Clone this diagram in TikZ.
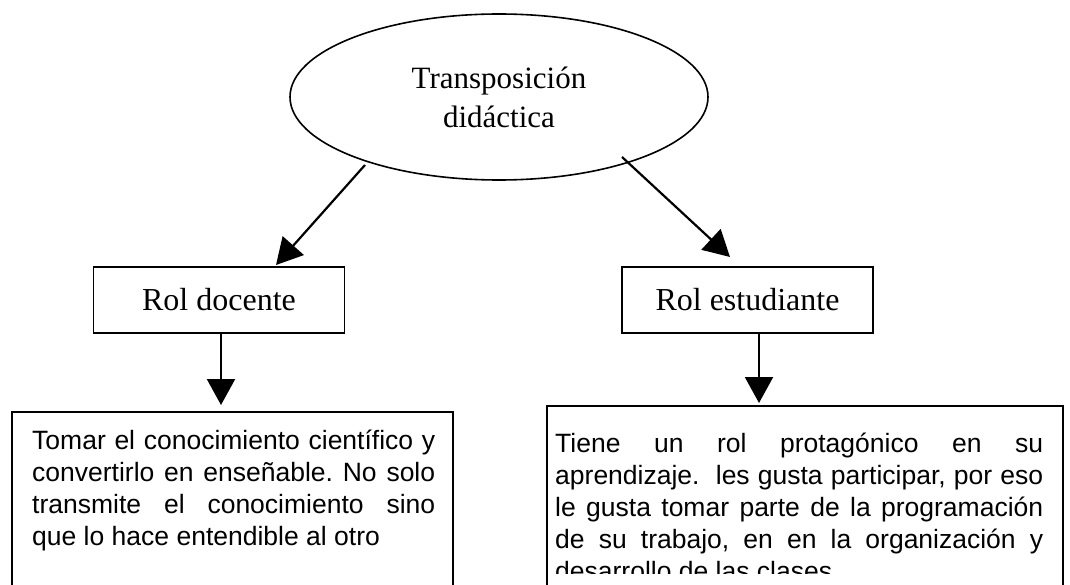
\documentclass[tikz,border=0pt]{standalone}
\usepackage{fontspec}
\setmainfont{Liberation Serif}
\newfontfamily\arial{Liberation Sans}
\usetikzlibrary{shapes.geometric, positioning, arrows.meta, calc}
\tolerance=10000
\hbadness=10000
\frenchspacing
\tikzset{tema/.style={draw,ellipse,line width=1.6pt,minimum width=418pt,minimum height=166pt,inner sep=0pt,outer sep=0pt,align=center,font=\fontsize{31}{39}\selectfont},
         rol/.style={draw,line width=1.6pt,minimum width=251pt,minimum height=66pt,inner sep=0pt,outer sep=0pt,font=\fontsize{32}{38}\selectfont},
         marco/.style={draw,line width=1.6pt,anchor=north west,inner sep=0pt,outer sep=0pt},
         texto/.style={anchor=north west,inner sep=0pt,align=justify,font=\arial\fontsize{26.5}{32}\selectfont},
         flecha/.style={-{Triangle[length=26pt,width=28pt]},line width=2.2pt},
        }

\begin{document}
\begin{tikzpicture}[x=1pt,y=-1pt]
        \useasboundingbox (0,0) rectangle (1070,585);
        \clip (0,0) rectangle (1070,585);

        \node[tema](tema)at(499,97){Transposición\\didáctica};
        \node[rol](docente)at(219,300){Rol docente};
        \node[rol](estudiante)at(747.5,300){Rol estudiante};

        \node[marco,minimum width=441pt,minimum height=250pt](izq)at(12,412){};
        \node[marco,minimum width=516pt,minimum height=250pt](der)at(547,406){};

        \node[texto,text width=403pt](izqtxt)at(32,425){\rule{0pt}{24pt}Tomar el conocimiento científico y\linebreak
        convertirlo en enseñable. No solo\linebreak
        transmite el conocimiento sino\linebreak
        que lo hace entendible al otro};

        \begin{scope}
        \clip (547,400) rectangle (1070,573);
        \node[texto,text width=488pt](dertxt)at(555,428){\rule{0pt}{24pt}Tiene un rol protagónico en su\linebreak
        aprendizaje.~ les gusta participar, por eso\linebreak
        le gusta tomar parte de la programación\linebreak
        de su trabajo, en en la organización y\linebreak
        desarrollo de las clases};
        \end{scope}

        \coordinate (s1) at ($(tema.center)+(-134,68)$);
        \coordinate (s2) at ($(tema.center)+(123,60)$);

        \draw[flecha](s1)--($(docente.north)+(57,-2)$);
        \draw[flecha](s2)--($(estudiante.north)+(-17.5,-10)$);
        \draw[flecha]($(docente.south)+(2,0)$)--($(izq.north west)+(209,-7)$);
        \draw[flecha]($(estudiante.south)+(11.5,0)$)--($(der.north west)+(212,-3)$);
    \end{tikzpicture}
\end{document}
